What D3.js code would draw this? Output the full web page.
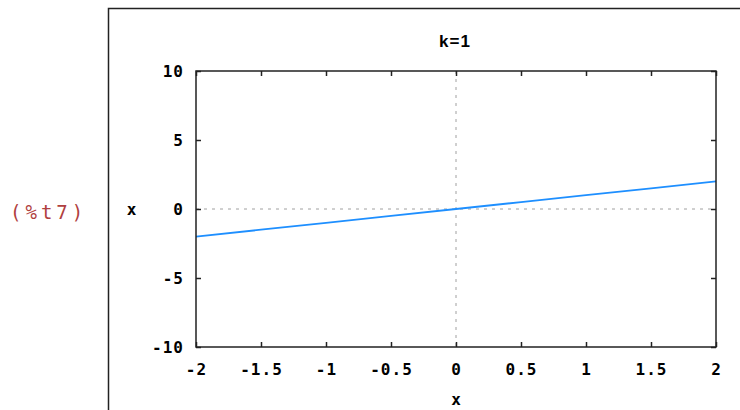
<!DOCTYPE html>
<html>
<head>
<meta charset="utf-8">
<script src="https://cdn.jsdelivr.net/npm/d3@7"></script>
<style>
  html, body { margin: 0; padding: 0; background: #fff; }
  svg { display: block; }
</style>
</head>
<body>
<svg id="chart" width="740" height="410"></svg>
<script>
// Plot of x against x for k=1
const titleText = "k=1";
const outputLabel = "(%t7)";
const xLabel = "x";
const yLabel = "x";
const xTicks = [-2, -1.5, -1, -0.5, 0, 0.5, 1, 1.5, 2];
const xTickLabels = ["-2", "-1.5", "-1", "-0.5", "0", "0.5", "1", "1.5", "2"];
const yTicks = [-10, -5, 0, 5, 10];
const yTickLabels = ["-10", "-5", "0", "5", "10"];
const seriesX = [-2, -1.5, -1, -0.5, 0, 0.5, 1, 1.5, 2];
const seriesY = [-2, -1.5, -1, -0.5, 0, 0.5, 1, 1.5, 2];

const svg = d3.select("#chart");
const plotL = 196, plotR = 716, plotT = 71, plotB = 347;

const x = d3.scaleLinear().domain([-2, 2]).range([plotL, plotR]);
const y = d3.scaleLinear().domain([-10, 10]).range([plotB, plotT]);

const mono = "'DejaVu Sans Mono', monospace";
const spacing = 1;

// output cell frame
svg.append("path")
  .attr("d", "M108.5,410 V8.5 H740")
  .attr("fill", "none").attr("stroke", "#222").attr("stroke-width", 1.5);

// output label
svg.append("text")
  .attr("x", 10).attr("y", 219)
  .attr("font-family", mono).attr("font-size", 19)
  .attr("letter-spacing", 4)
  .attr("fill", "#b04040")
  .text(outputLabel);

// zero axes, dotted
svg.append("line")
  .attr("x1", x(0)).attr("x2", x(0)).attr("y1", plotT).attr("y2", plotB)
  .attr("stroke", "#a0a0a0").attr("stroke-dasharray", "3,5");
svg.append("line")
  .attr("x1", plotL).attr("x2", plotR).attr("y1", y(0)).attr("y2", y(0))
  .attr("stroke", "#a0a0a0").attr("stroke-dasharray", "3,5");

// inward ticks on all four sides
const tickLen = 5;
const xAxisB = d3.axisBottom(x).tickValues(xTicks).tickSize(-tickLen).tickFormat("");
const xAxisT = d3.axisTop(x).tickValues(xTicks).tickSize(-tickLen).tickFormat("");
const yAxisL = d3.axisLeft(y).tickValues(yTicks).tickSize(-tickLen).tickFormat("");
const yAxisR = d3.axisRight(y).tickValues(yTicks).tickSize(-tickLen).tickFormat("");
[[xAxisB, `translate(0,${plotB})`], [xAxisT, `translate(0,${plotT})`],
 [yAxisL, `translate(${plotL},0)`], [yAxisR, `translate(${plotR},0)`]].forEach(([ax, tr]) => {
  const g = svg.append("g").attr("transform", tr).call(ax);
  g.select(".domain").remove();
  g.selectAll(".tick line").attr("stroke", "#222").attr("stroke-width", 1.5);
});

// tick labels
svg.append("g").selectAll("text").data(xTicks).join("text")
  .attr("x", d => x(d) + spacing / 2).attr("y", plotB + 28)
  .attr("text-anchor", "middle")
  .attr("font-family", mono).attr("font-weight", "bold").attr("font-size", 16)
  .attr("letter-spacing", spacing)
  .attr("fill", "#000")
  .text((d, i) => xTickLabels[i]);
svg.append("g").selectAll("text").data(yTicks).join("text")
  .attr("x", plotL - 12).attr("y", d => y(d) + 6)
  .attr("text-anchor", "end")
  .attr("font-family", mono).attr("font-weight", "bold").attr("font-size", 16)
  .attr("letter-spacing", spacing)
  .attr("fill", "#000")
  .text((d, i) => yTickLabels[i]);

// series
const line = d3.line().x((d, i) => x(seriesX[i])).y(d => y(d));
svg.append("path")
  .datum(seriesY)
  .attr("d", line)
  .attr("fill", "none").attr("stroke", "#1e8fff").attr("stroke-width", 1.8);

// plot border
svg.append("rect")
  .attr("x", plotL).attr("y", plotT).attr("width", plotR - plotL).attr("height", plotB - plotT)
  .attr("fill", "none").attr("stroke", "#222").attr("stroke-width", 1.5);

// title and axis labels
svg.append("text")
  .attr("x", (plotL + plotR) / 2 - 1).attr("y", 47)
  .attr("text-anchor", "middle")
  .attr("font-family", "'Liberation Sans', Arial, sans-serif").attr("font-weight", "bold").attr("font-size", 17)
  .attr("letter-spacing", 1)
  .text(titleText);
svg.append("text")
  .attr("x", x(0)).attr("y", 405)
  .attr("text-anchor", "middle")
  .attr("font-family", mono).attr("font-weight", "bold").attr("font-size", 16)
  .text(xLabel);
svg.append("text")
  .attr("x", 131.5).attr("y", y(0) + 6)
  .attr("text-anchor", "middle")
  .attr("font-family", mono).attr("font-weight", "bold").attr("font-size", 16)
  .text(yLabel);
</script>
</body>
</html>
